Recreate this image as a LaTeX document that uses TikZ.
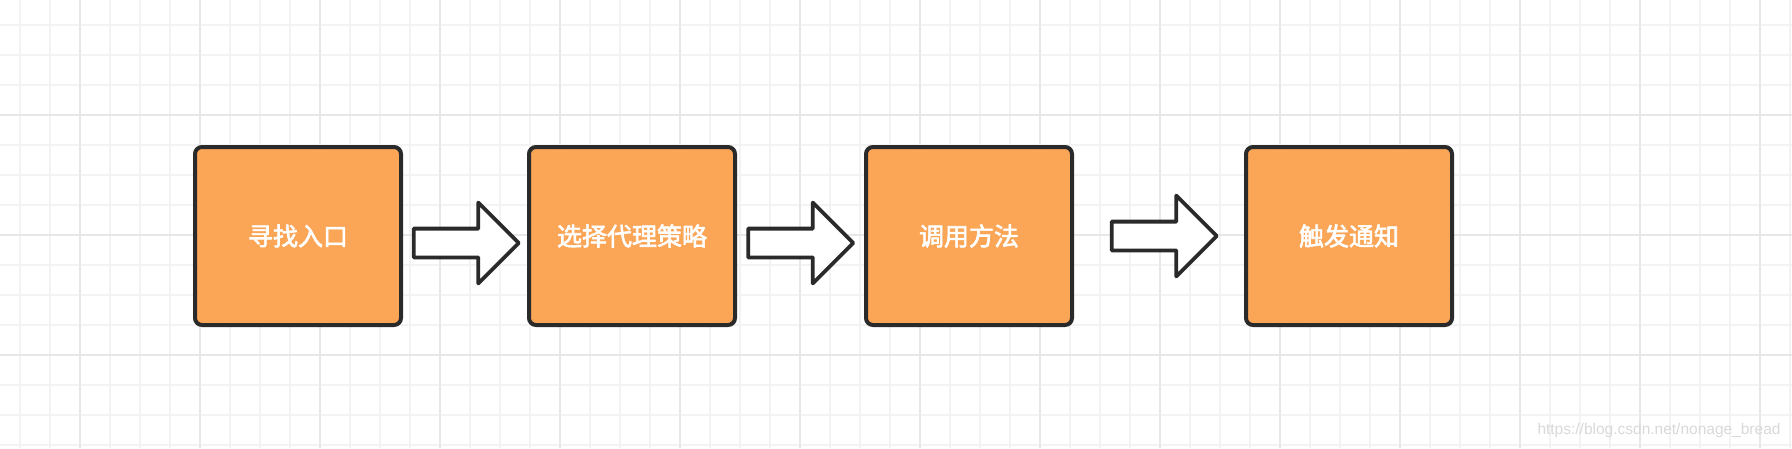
\documentclass[tikz,border=0pt]{standalone}
\usepackage{fontspec}
\setsansfont{Liberation Sans}
\newfontfamily\cjk[FakeBold=2.5]{Noto Sans CJK SC}
\usetikzlibrary{positioning,calc,shapes.arrows}
\definecolor{boxorange}{HTML}{FBA557}
\definecolor{edgegray}{HTML}{2A2A2A}
\definecolor{gridminor}{HTML}{F3F3F3}
\definecolor{gridmajor}{HTML}{E7E7E7}
\tikzset{
  stepbox/.style={draw=edgegray, line width=4pt, rounded corners=7pt, fill=boxorange, minimum width=206pt, minimum height=178pt, inner sep=0pt, align=center, text=white, font=\cjk\fontsize{25}{30}\selectfont},
  bigarrow/.style={draw=edgegray, line width=3.8pt, fill=white, single arrow, single arrow head extend=26pt, minimum width=78pt, minimum height=105pt, inner xsep=0pt, inner ysep=12.5pt, line join=round},
  minorline/.style={draw=gridminor, line width=1.5pt},
  majorline/.style={draw=gridmajor, line width=2pt}
}

\begin{document}
\begin{tikzpicture}[x=1pt, y=-1pt]
  \useasboundingbox (0,0) rectangle (1792,448);
  \fill[white] (0,0) rectangle (1792,448);
  % background grid
  \foreach \x in {20,50,...,1790} \draw[minorline] (\x,0) -- (\x,448);
  \foreach \y in {25,55,...,445} \draw[minorline] (0,\y) -- (1792,\y);
  \foreach \x in {80,200,...,1760} \draw[majorline] (\x,0) -- (\x,448);
  \foreach \y in {115,235,355} \draw[majorline] (0,\y) -- (1792,\y);

  \node[stepbox] (find) at (298,236) {寻找入口};
  \node[stepbox] (choose) at (632,236) {选择代理策略};
  \node[stepbox] (invoke) at (969,236) {调用方法};
  \node[stepbox] (notify) at (1349,236) {触发通知};

  \node[bigarrow] (a1) at ($(find.east)!0.5!(choose.west)+(-6,7)$) {};
  \node[bigarrow] (a2) at ($(choose.east)!0.5!(invoke.west)+(-7,7)$) {};
  \node[bigarrow] (a3) at ($(invoke.east)!0.5!(notify.west)+(-2,0)$) {};

  \node[font=\sffamily\fontsize{15.5}{18}\selectfont, text=gray!30] (watermark) at (1659,430) {https://blog.csdn.net/nonage\_bread};
\end{tikzpicture}
\end{document}
